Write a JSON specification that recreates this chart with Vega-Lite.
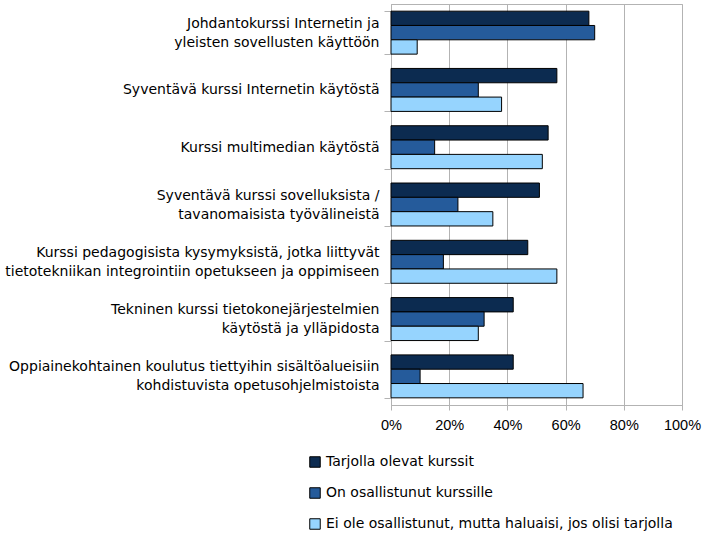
{
  "$schema": "https://vega.github.io/schema/vega-lite/v6.json",
  "autosize": {"type": "none"},
  "width": 291,
  "height": 401,
  "padding": {"left": 391, "top": 4, "right": 25, "bottom": 128},
  "background": "white",
  "config": {
    "font": "Liberation Sans",
    "view": {"stroke": "#b3b3b3", "strokeWidth": 1}
  },
  "data": {
    "values": [
      {"kurssi": "Johdantokurssi Internetin ja|yleisten sovellusten käyttöön", "sarja": "Tarjolla olevat kurssit", "arvo": 0.68},
      {"kurssi": "Johdantokurssi Internetin ja|yleisten sovellusten käyttöön", "sarja": "On osallistunut kurssille", "arvo": 0.70},
      {"kurssi": "Johdantokurssi Internetin ja|yleisten sovellusten käyttöön", "sarja": "Ei ole osallistunut, mutta haluaisi, jos olisi tarjolla", "arvo": 0.09},
      {"kurssi": "Syventävä kurssi Internetin käytöstä", "sarja": "Tarjolla olevat kurssit", "arvo": 0.57},
      {"kurssi": "Syventävä kurssi Internetin käytöstä", "sarja": "On osallistunut kurssille", "arvo": 0.30},
      {"kurssi": "Syventävä kurssi Internetin käytöstä", "sarja": "Ei ole osallistunut, mutta haluaisi, jos olisi tarjolla", "arvo": 0.38},
      {"kurssi": "Kurssi multimedian käytöstä", "sarja": "Tarjolla olevat kurssit", "arvo": 0.54},
      {"kurssi": "Kurssi multimedian käytöstä", "sarja": "On osallistunut kurssille", "arvo": 0.15},
      {"kurssi": "Kurssi multimedian käytöstä", "sarja": "Ei ole osallistunut, mutta haluaisi, jos olisi tarjolla", "arvo": 0.52},
      {"kurssi": "Syventävä kurssi sovelluksista /|tavanomaisista työvälineistä", "sarja": "Tarjolla olevat kurssit", "arvo": 0.51},
      {"kurssi": "Syventävä kurssi sovelluksista /|tavanomaisista työvälineistä", "sarja": "On osallistunut kurssille", "arvo": 0.23},
      {"kurssi": "Syventävä kurssi sovelluksista /|tavanomaisista työvälineistä", "sarja": "Ei ole osallistunut, mutta haluaisi, jos olisi tarjolla", "arvo": 0.35},
      {"kurssi": "Kurssi pedagogisista kysymyksistä, jotka liittyvät|tietotekniikan integrointiin opetukseen ja oppimiseen", "sarja": "Tarjolla olevat kurssit", "arvo": 0.47},
      {"kurssi": "Kurssi pedagogisista kysymyksistä, jotka liittyvät|tietotekniikan integrointiin opetukseen ja oppimiseen", "sarja": "On osallistunut kurssille", "arvo": 0.18},
      {"kurssi": "Kurssi pedagogisista kysymyksistä, jotka liittyvät|tietotekniikan integrointiin opetukseen ja oppimiseen", "sarja": "Ei ole osallistunut, mutta haluaisi, jos olisi tarjolla", "arvo": 0.57},
      {"kurssi": "Tekninen kurssi tietokonejärjestelmien|käytöstä ja ylläpidosta", "sarja": "Tarjolla olevat kurssit", "arvo": 0.42},
      {"kurssi": "Tekninen kurssi tietokonejärjestelmien|käytöstä ja ylläpidosta", "sarja": "On osallistunut kurssille", "arvo": 0.32},
      {"kurssi": "Tekninen kurssi tietokonejärjestelmien|käytöstä ja ylläpidosta", "sarja": "Ei ole osallistunut, mutta haluaisi, jos olisi tarjolla", "arvo": 0.30},
      {"kurssi": "Oppiainekohtainen koulutus tiettyihin sisältöalueisiin|kohdistuvista opetusohjelmistoista", "sarja": "Tarjolla olevat kurssit", "arvo": 0.42},
      {"kurssi": "Oppiainekohtainen koulutus tiettyihin sisältöalueisiin|kohdistuvista opetusohjelmistoista", "sarja": "On osallistunut kurssille", "arvo": 0.10},
      {"kurssi": "Oppiainekohtainen koulutus tiettyihin sisältöalueisiin|kohdistuvista opetusohjelmistoista", "sarja": "Ei ole osallistunut, mutta haluaisi, jos olisi tarjolla", "arvo": 0.66}
    ]
  },
  "mark": {"type": "bar", "stroke": "black", "strokeWidth": 1},
  "encoding": {
    "y": {
      "field": "kurssi",
      "type": "nominal",
      "sort": null,
      "scale": {"paddingInner": 0.25, "paddingOuter": 0.125},
      "axis": {
        "title": null,
        "labelExpr": "datum.value ? split(datum.value, '|') : ''",
        "labelFont": "DejaVu Sans",
        "labelFontSize": 14,
        "labelColor": "black",
        "labelLineHeight": 19,
        "labelPadding": 5,
        "labelOffset": {"condition": {"test": "datum.value && indexof(datum.value, '|') >= 0", "value": -9.5}, "value": 0},
        "tickBand": "extent",
        "tickSize": 7,
        "tickColor": "#b3b3b3",
        "domainColor": "#b3b3b3",
        "labelLimit": 420
      }
    },
    "yOffset": {
      "field": "sarja",
      "type": "nominal",
      "sort": null,
      "scale": {"paddingInner": 0, "paddingOuter": 0}
    },
    "x": {
      "field": "arvo",
      "type": "quantitative",
      "scale": {"domain": [0, 1], "nice": false},
      "axis": {
        "title": null,
        "format": ".0%",
        "values": [0, 0.2, 0.4, 0.6, 0.8, 1],
        "labelFontSize": 14.5,
        "labelColor": "black",
        "labelPadding": 8,
        "tickSize": 5,
        "tickColor": "#b3b3b3",
        "gridColor": "#b3b3b3",
        "domainColor": "#b3b3b3",
        "labelFlush": false
      }
    },
    "color": {
      "field": "sarja",
      "type": "nominal",
      "sort": null,
      "scale": {
        "domain": ["Tarjolla olevat kurssit", "On osallistunut kurssille", "Ei ole osallistunut, mutta haluaisi, jos olisi tarjolla"],
        "range": ["#0c2b50", "#255b9b", "#96d4fe"]
      },
      "legend": {
        "title": null,
        "orient": "none",
        "legendX": -83,
        "legendY": 451,
        "direction": "vertical",
        "symbolType": "square",
        "symbolSize": 110,
        "symbolStrokeColor": "black",
        "symbolStrokeWidth": 1,
        "labelFont": "DejaVu Sans",
        "labelFontSize": 14,
        "labelColor": "black",
        "labelOffset": 4,
        "rowPadding": 15,
        "labelLimit": 500
      }
    }
  }
}
